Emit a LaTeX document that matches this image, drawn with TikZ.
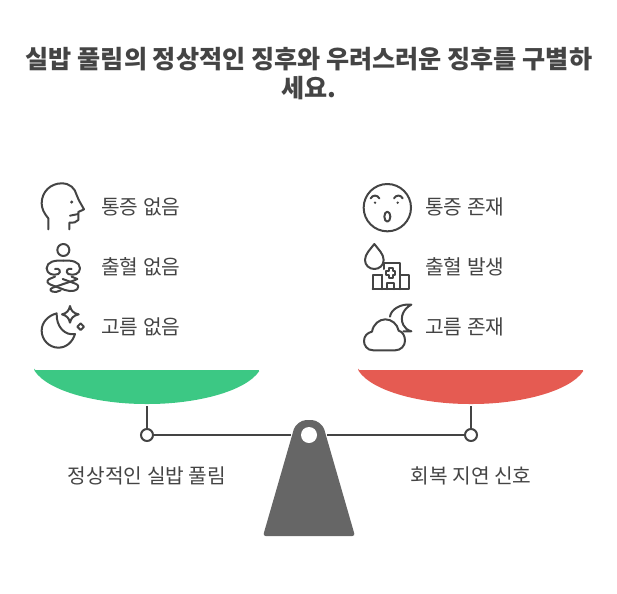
\documentclass[tikz,border=0pt]{standalone}
\usepackage{fontspec}
\setmainfont{Noto Sans CJK KR}
\usepackage{xcolor}
\usepackage{tikz}
\definecolor{inkc}{HTML}{444444}
\definecolor{greenpan}{HTML}{3CC884}
\definecolor{redpan}{HTML}{E55B52}
\definecolor{standc}{HTML}{666666}
\tikzset{
  titletext/.style={text=inkc,font=\fontsize{18.85pt}{21.8pt}\selectfont\bfseries,align=center,inner sep=0pt},
  itemtext/.style={text=inkc,font=\fontsize{15.2pt}{18pt}\selectfont,anchor=west,inner sep=0pt},
  pantext/.style={text=inkc,font=\fontsize{15.2pt}{18pt}\selectfont,inner sep=0pt},
  icon/.style={draw=inkc,line width=1.5pt,line cap=round,line join=round},
  armline/.style={draw=inkc,line width=1.5pt},
  pivot/.style={circle,draw=inkc,fill=white,line width=1.5pt,minimum size=9pt,inner sep=0pt},
}
\begin{document}
\begin{tikzpicture}[x=0.75pt,y=0.75pt,yscale=-1]
\useasboundingbox (0,0) rectangle (617,593);

%Left pan
\fill [greenpan,rounded corners=1pt] (34,370) -- (260,370) .. controls (245,392) and (195,404) .. (147,404) .. controls (99,404) and (49,392) .. (34,370) -- cycle ;
%Right pan
\fill [redpan,rounded corners=1pt] (358,370) -- (584,370) .. controls (569,392) and (519,404) .. (471,404) .. controls (423,404) and (373,392) .. (358,370) -- cycle ;
%Stand
\fill [standc,rounded corners=2pt] (263,536) -- (293,432) .. controls (295,425) and (301,420) .. (309,420) .. controls (317,420) and (323,425) .. (325,432) -- (355,536) -- cycle ;
\fill [white] (309,435) circle [radius=8] ;

% Connectors
\coordinate (panL) at (147,406);
\coordinate (panR) at (471,406);
\coordinate (armL) at (291,435);
\coordinate (armR) at (327,435);
\node [pivot] (pivotL) at (147,435) {};
\node [pivot] (pivotR) at (471,435) {};
\draw [armline] (panL) -- (pivotL);
\draw [armline] (pivotL) -- (armL);
\draw [armline] (panR) -- (pivotR);
\draw [armline] (pivotR) -- (armR);

%Head icon
\begin{scope}[shift={(20,170)},scale=1/3]
\draw [icon] (85,178) -- (85,145) .. controls (72,130) and (65,115) .. (65,100) .. controls (65,65) and (92,40) .. (125,40) .. controls (150,40) and (165,55) .. (170,75) .. controls (175,90) and (185,105) .. (192,118) -- (175,126) -- (175,150) .. controls (170,158) and (160,158) .. (148,158) -- (148,178) ;
\draw [icon] (150,137) -- (175,132) ;
\fill [inkc] (155,96) circle [radius=5] ;
\end{scope}

%Meditation icon
\begin{scope}[shift={(20,170)},scale=1/3]
\draw [icon] (130,240) circle [radius=18] ;
\draw [icon] (130,272) .. controls (105,270) and (80,275) .. (80,295) .. controls (80,312) and (100,318) .. (115,312) .. controls (125,306) and (118,292) .. (105,297) ;
\draw [icon] (130,272) .. controls (155,270) and (180,275) .. (180,295) .. controls (180,312) and (160,318) .. (145,312) .. controls (135,306) and (142,292) .. (155,297) ;
\draw [icon] (105,320) -- (88,327) .. controls (78,333) and (82,340) .. (92,344) -- (135,360) .. controls (155,367) and (175,362) .. (175,350) .. controls (175,342) and (162,340) .. (150,335) -- (128,327) ;
\draw [icon] (155,320) -- (172,327) .. controls (160,333) and (145,337) .. (130,342) -- (98,353) .. controls (86,358) and (90,366) .. (108,366) -- (122,361) ;
\end{scope}

%Moon icon
\begin{scope}[shift={(20,170)},scale=1/3]
\draw [icon] (110,430) .. controls (82,438) and (65,458) .. (65,482) .. controls (65,510) and (88,533) .. (115,533) .. controls (140,533) and (158,515) .. (165,492) .. controls (135,498) and (108,470) .. (110,430) -- cycle ;
\draw [icon] (150,408) .. controls (153,422) and (160,430) .. (176,433) .. controls (160,437) and (153,444) .. (150,458) .. controls (147,444) and (140,437) .. (126,433) .. controls (140,430) and (147,422) .. (150,408) -- cycle ;
\draw [icon] (182,460) -- (192,470) -- (182,480) -- (172,470) -- cycle ;
\end{scope}

%Face icon
\begin{scope}[shift={(350,170)},scale=1/3]
\draw [icon] (112,113) circle [radius=71] ;
\draw [icon] (62,85) .. controls (68,74) and (82,74) .. (88,85) ;
\draw [icon] (132,85) .. controls (138,74) and (152,74) .. (158,85) ;
\fill [inkc] (75,98) circle [radius=4] ;
\fill [inkc] (143,98) circle [radius=4] ;
\draw [icon] (112,140) ellipse [x radius=9,y radius=15] ;
\end{scope}

%Drop and hospital icon
\begin{scope}[shift={(350,170)},scale=1/3]
\draw [icon] (73,222) .. controls (85,238) and (101,252) .. (101,270) .. controls (101,286) and (88,297) .. (73,297) .. controls (58,297) and (45,286) .. (45,270) .. controls (45,252) and (61,238) .. (73,222) -- cycle ;
\draw [icon] (68,357) -- (68,315) -- (96,315) ;
\draw [icon] (102,297) -- (102,280) -- (150,280) -- (150,357) ;
\draw [icon] (96,315) -- (96,357) ;
\draw [icon] (150,315) -- (178,315) -- (178,357) -- (68,357) ;
\draw [icon] (112,357) -- (112,338) -- (132,338) -- (132,357) ;
\draw [icon] (116,295) -- (128,295) -- (128,303) -- (136,303) -- (136,315) -- (128,315) -- (128,323) -- (116,323) -- (116,315) -- (108,315) -- (108,303) -- (116,303) -- cycle ;
\end{scope}

%Cloud and moon icon
\begin{scope}[shift={(350,170)},scale=1/3]
\draw [icon] (70,541) .. controls (50,541) and (42,525) .. (42,513) .. controls (42,498) and (52,488) .. (66,485) .. controls (70,462) and (88,448) .. (106,448) .. controls (125,448) and (142,462) .. (146,482) .. controls (158,485) and (165,498) .. (165,512) .. controls (165,528) and (152,541) .. (135,541) -- cycle ;
\draw [icon] (120,440) .. controls (122,420) and (150,400) .. (184,404) .. controls (162,415) and (148,440) .. (160,465) .. controls (165,475) and (172,480) .. (184,484) -- (160,484) ;
\end{scope}

% Text Node
\node [titletext] (title) at (309,73.5) {실밥 풀림의 정상적인 징후와 우려스러운 징후를 구별하\\세요.};
\node [itemtext] (leftA) at (101,207) {통증 없음};
\node [itemtext] (leftB) at (101,267) {출혈 없음};
\node [itemtext] (leftC) at (101,327) {고름 없음};
\node [itemtext] (rightA) at (425,207) {통증 존재};
\node [itemtext] (rightB) at (425,267) {출혈 발생};
\node [itemtext] (rightC) at (425,327) {고름 존재};
\node [pantext] (panlabelL) at (147,476) {정상적인 실밥 풀림};
\node [pantext] (panlabelR) at (471,476) {회복 지연 신호};
\end{tikzpicture}
\end{document}
